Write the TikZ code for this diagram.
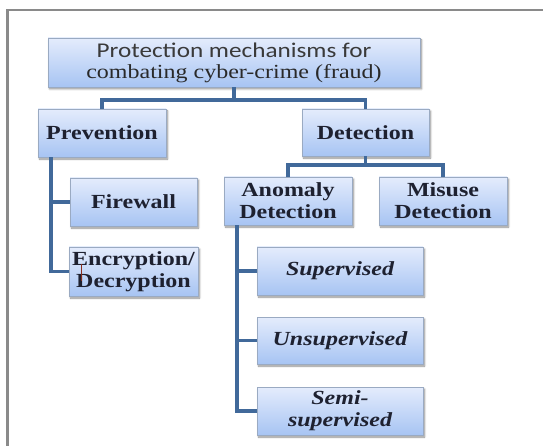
\documentclass[tikz,border=0pt]{standalone}
\usepackage{fontspec}
\setmainfont[FakeStretch=1.2]{Liberation Serif}
\newfontfamily\calib[FakeStretch=1.2]{Carlito}
\usetikzlibrary{shadows,shadows.blur}

\definecolor{boxtop}{HTML}{E4ECFC}
\definecolor{boxbot}{HTML}{A7C4F3}
\definecolor{boxline}{HTML}{9AAAC2}
\definecolor{linkblue}{HTML}{41699A}
\definecolor{inktext}{HTML}{1E2130}
\definecolor{inkgray}{HTML}{3A3A3A}
\definecolor{framegray}{HTML}{8A8A8A}
\definecolor{cursorred}{HTML}{8A2E1C}

\tikzset{
  box/.style={draw=boxline, line width=0.6pt, top color=boxtop, bottom color=boxbot,
    inner sep=0pt, align=center, text=inktext,
    font=\fontsize{20}{22}\selectfont\bfseries,
    blur shadow={shadow blur steps=6, shadow xshift=1.5pt, shadow yshift=-2pt, shadow opacity=45}},
  leaf/.style={box, font=\fontsize{20}{22}\selectfont\bfseries\itshape},
  conn/.style={draw=linkblue, line width=3.6pt},
  frameline/.style={draw=framegray, line width=2.5pt}
}

\begin{document}
\begin{tikzpicture}[x=1pt, y=-1pt]
\useasboundingbox (0,0) rectangle (543,446);

% outer frame (only the left and top edges fall inside the page)
\draw[frameline] (7.5,446) -- (7.5,10) -- (543,10);

% boxes
\node[box, minimum width=372pt, minimum height=49pt, font=\fontsize{20}{21}\selectfont] (root) at (234,62.5)
  {{\calib\fontsize{21}{21}\selectfont\color{inkgray}Protection mechanisms for}\\
   {\rmfamily\color{inkgray!70!black}combating cyber-crime (fraud)}};
\node[box, minimum width=128pt, minimum height=48pt] (prev) at (102,133) {Prevention};
\node[box, minimum width=127pt, minimum height=47pt] (det) at (365.5,132.5) {Detection};
\node[box, minimum width=127pt, minimum height=48pt] (fw) at (133.5,202) {Firewall};
\node[box, minimum width=129pt, minimum height=49pt] (enc) at (133.5,271.5) {Encryption/\\Decryption};
\node[box, minimum width=128pt, minimum height=48pt] (ano) at (288,201) {Anomaly\\Detection};
\node[box, minimum width=128pt, minimum height=48pt] (mis) at (443,201) {Misuse\\Detection};
\node[leaf, minimum width=166pt, minimum height=48pt] (sup) at (340,271) {Supervised};
\node[leaf, minimum width=166pt, minimum height=47pt] (uns) at (340,340.5) {Unsupervised};
\node[leaf, minimum width=166pt, minimum height=48pt] (semi) at (340,411) {Semi-\\supervised};

% tree connectors
\draw[conn] (root.south) -- ++(0,12.5) -| (prev.north);
\draw[conn] (root.south) -- ++(0,12.5) -| (det.north);
\draw[conn] (det.south) -- ++(0,9) -| (ano.north);
\draw[conn] (det.south) -- ++(0,9) -| (mis.north);
\draw[conn] ([xshift=13pt]prev.south west) |- (fw.west);
\draw[conn] ([xshift=13pt]prev.south west) |- (enc.west);
\draw[conn] ([xshift=13pt]ano.south west) |- (sup.west);
\draw[conn] ([xshift=13pt]ano.south west) |- (uns.west);
\draw[conn] ([xshift=13pt]ano.south west) |- (semi.west);

% text cursor left in the encryption label
\coordinate (cur) at ([xshift=13pt]enc.west);
\draw[cursorred, line width=1pt] (cur) ++(0,-7.5) -- ++(0,17);
\end{tikzpicture}
\end{document}
